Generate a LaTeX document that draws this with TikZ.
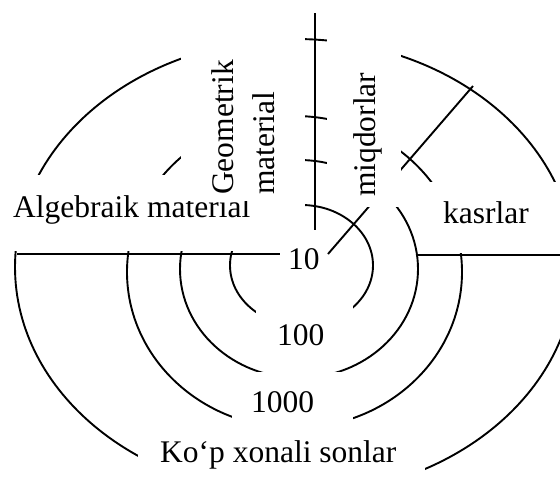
\documentclass[tikz,border=0pt]{standalone}
\usepackage{fontspec}
\setmainfont{Liberation Serif}
\usetikzlibrary{positioning}

\begin{document}
\begin{tikzpicture}[x=1pt, y=-1pt,
    ring/.style={draw, line width=1.9pt},
    axis/.style={line width=1.9pt},
    thin axis/.style={line width=1.2pt},
    mask/.style={fill=white},
    lbl/.style={inner sep=0pt, font=\fontsize{31.5}{38}\selectfont}]
    \useasboundingbox (0,0) rectangle (560,488);

    % ring centres
    \coordinate (c10) at (301.5,265.4);
    \coordinate (c100) at (299,269);
    \coordinate (c1000) at (294.5,272);
    \coordinate (cbig) at (295,267);

    \draw[ring] (c10) ellipse [x radius=71.5pt, y radius=60.4pt];
    \draw[ring] (c100) ellipse [x radius=119pt, y radius=109pt];
    \draw[ring] (c1000) ellipse [x radius=167.5pt, y radius=156pt];
    \draw[ring] (cbig) ellipse [x radius=280pt, y radius=228pt];

    % axes
    \coordinate (top) at (315,13);
    \coordinate (axend) at (315,230);
    \coordinate (left) at (17,254);
    \coordinate (leftend) at (280,254);
    \coordinate (right) at (418,255);
    \coordinate (rightend) at (560,255);
    \coordinate (diag) at (328,254);
    \coordinate (diagend) at (473,86);
    \draw[axis] (top) -- (axend);
    \draw[axis] (left) -- (leftend);
    \draw[thin axis] (right) -- (rightend);
    \draw[axis] (diag) -- (diagend);

    % white boxes behind the labels
    \fill[mask] (5,175) rectangle (305,251);
    \node[lbl, anchor=base west] (alg) at (13,217) {Algebraik material};
    \fill[mask] (181,-5) rectangle (305,201);
    \node[lbl, rotate=90, anchor=base west] (geo) at (233,195) {Geometrik};
    \node[lbl, rotate=90, anchor=base west] (geomat) at (274,195) {material};
    \fill[mask] (327,-5) rectangle (401,207);
    \node[lbl, rotate=90, anchor=base west] (miq) at (375,197) {miqdorlar};
    \fill[mask] (422,182) rectangle (565,253);
    \node[lbl, anchor=base west] (kas) at (443,223) {kasrlar};

    \node[lbl, anchor=base west] (n10) at (288,269) {10};
    \fill[mask] (256,300) rectangle (353,362);
    \node[lbl, anchor=base west] (n100) at (277,345) {100};
    \fill[mask] (232,372) rectangle (353,440);
    \node[lbl, anchor=base west] (n1000) at (251,412) {1000};
    \fill[mask] (138,430) rectangle (425,495);
    \node[lbl, anchor=base west] (kop) at (160,462) {Ko‘p xonali sonlar};
\end{tikzpicture}
\end{document}
